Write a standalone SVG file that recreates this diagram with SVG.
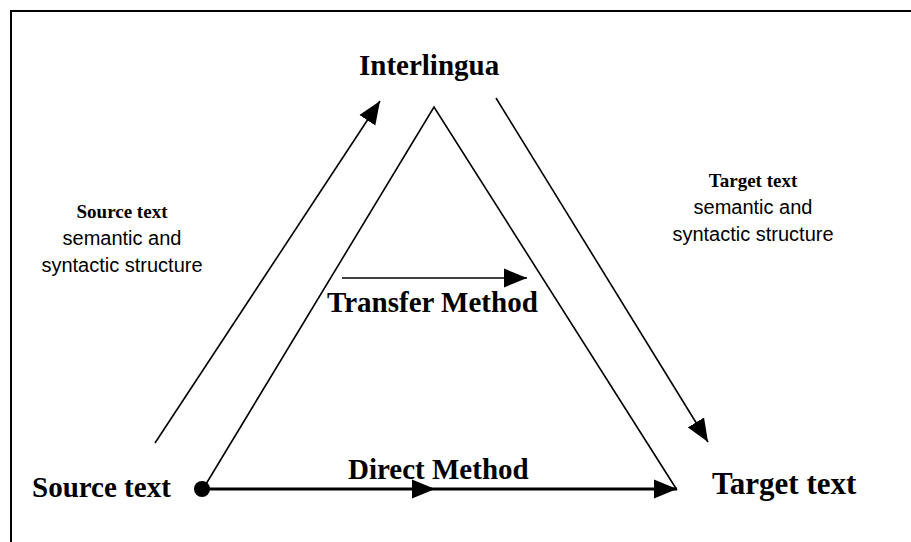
<svg xmlns="http://www.w3.org/2000/svg" width="911" height="542" viewBox="0 0 911 542">
<defs>
<style>
.lbl{font-family:"Liberation Serif","Times New Roman",serif;fill:#000}
.big{font-size:29px;font-weight:bold}
.sb{font-size:19px;font-weight:bold}
.sr{font-family:"Liberation Sans",Arial,sans-serif;font-size:20px}
.ln{stroke:#000;fill:none;stroke-width:1.6}
.thick{stroke:#000;fill:none;stroke-width:3}
</style>
<marker id="ah" markerUnits="userSpaceOnUse" markerWidth="24" markerHeight="20" refX="23" refY="9.5" orient="auto" viewBox="0 0 24 19">
<path d="M0,0 L23,9.5 L0,19 Z" fill="#000"/>
</marker>
</defs>
<rect width="911" height="542" fill="#fff"/>
<path d="M11,542 V11 H911" fill="none" stroke="#000" stroke-width="2"/>
<g id="connectors">
<path class="ln" d="M203,489 L434,107 L677,490"/>
<path class="ln" d="M155,443 L380,101" marker-end="url(#ah)"/>
<path class="ln" d="M496,98 L708,442" marker-end="url(#ah)"/>
<path class="ln" d="M342,278 L527,278" marker-end="url(#ah)"/>
<path class="thick" d="M203,489 L435,489" marker-end="url(#ah)"/>
<path class="thick" d="M435,489 L677,489" marker-end="url(#ah)"/>
<circle cx="202" cy="489" r="8" fill="#000"/>
</g>
<g id="interlingua"><text class="lbl big" x="359" y="75">Interlingua</text></g>
<g id="source"><text class="lbl big" x="32" y="497">Source text</text></g>
<g id="target"><text class="lbl big" x="712" y="494" style="font-size:31px">Target text</text></g>
<g id="transfer"><text class="lbl big" x="327" y="312">Transfer Method</text></g>
<g id="direct"><text class="lbl big" x="348" y="479">Direct Method</text></g>
<g id="source-struct">
<text class="lbl sb" x="122" y="218" text-anchor="middle">Source text</text>
<text class="lbl sr" x="122" y="245" text-anchor="middle">semantic and</text>
<text class="lbl sr" x="122" y="272" text-anchor="middle">syntactic structure</text>
</g>
<g id="target-struct">
<text class="lbl sb" x="753" y="187" text-anchor="middle">Target text</text>
<text class="lbl sr" x="753" y="214" text-anchor="middle">semantic and</text>
<text class="lbl sr" x="753" y="241" text-anchor="middle">syntactic structure</text>
</g>
</svg>
